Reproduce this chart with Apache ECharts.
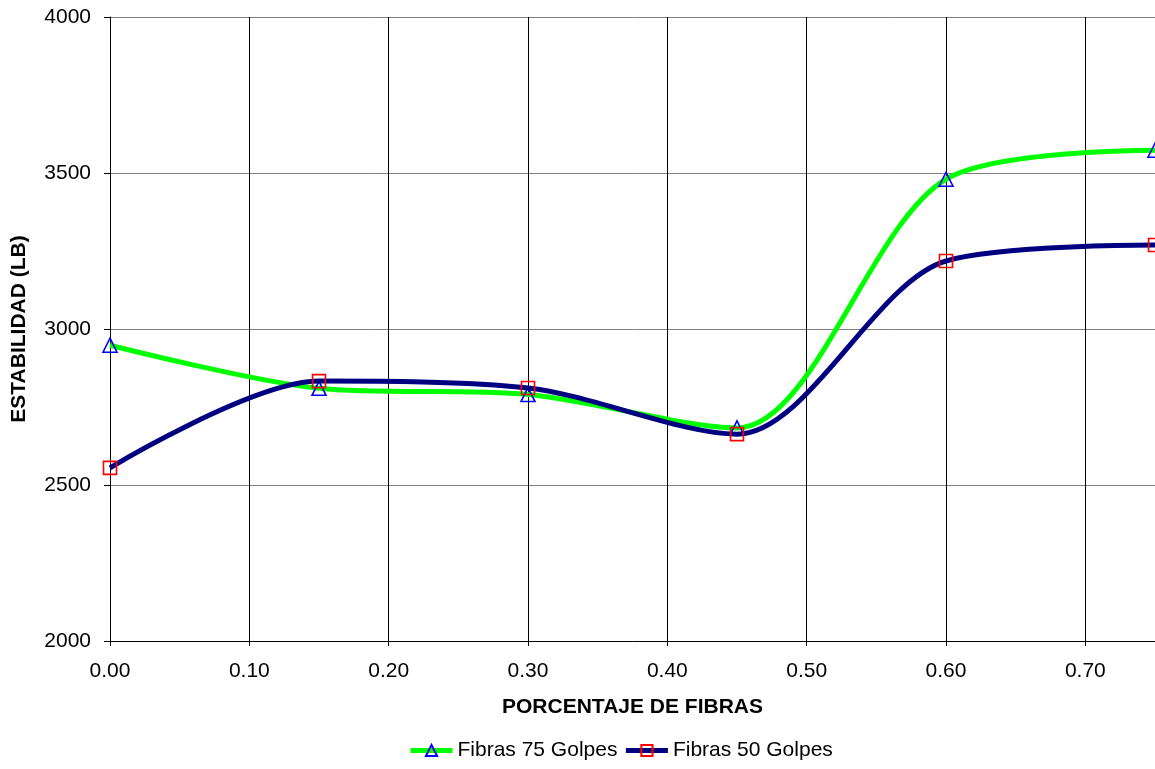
<!DOCTYPE html>
<html>
<head>
<meta charset="utf-8">
<script src="https://cdn.jsdelivr.net/npm/echarts@6/dist/echarts.min.js"></script>
<style>
  html, body { margin: 0; padding: 0; background: #fff; }
  #chart { width: 1155px; height: 769px; }
</style>
</head>
<body>
<div id="chart"></div>
<script>
// porcentaje de fibras
const fibras = [0.00, 0.15, 0.30, 0.45, 0.60, 0.75];
// estabilidad (lb)
const golpes75 = [2948, 2810, 2790, 2683, 3480, 3573];
const golpes50 = [2555, 2833, 2811, 2663, 3218, 3269];
const xTicks = ['0.00', '0.10', '0.20', '0.30', '0.40', '0.50', '0.60', '0.70'];

const chart = echarts.init(document.getElementById('chart'));
const font = 'Liberation Sans, Arial, sans-serif';

chart.setOption({
  animation: false,
  textStyle: { fontFamily: font },
  grid: { left: 110, top: 17, bottom: 128, right: 0 },
  legend: {
    bottom: 3,
    left: 403,
    itemWidth: 42,
    itemHeight: 14,
    itemGap: 6,
    lineStyle: { width: 5 },
    textStyle: { fontSize: 21, color: '#000', fontFamily: font },
    data: ['Fibras 75 Golpes', 'Fibras 50 Golpes']
  },
  xAxis: {
    type: 'value',
    min: 0,
    max: 0.75,
    interval: 0.1,
    name: 'PORCENTAJE DE FIBRAS',
    nameLocation: 'middle',
    nameGap: 56,
    nameTextStyle: { fontSize: 21, fontWeight: 'bold', color: '#000' },
    axisLine: { lineStyle: { color: '#000', width: 1 } },
    axisTick: { length: 5, lineStyle: { color: '#000' } },
    axisLabel: {
      fontSize: 21, color: '#000', margin: 20,
      showMaxLabel: false,
      formatter: v => xTicks[Math.round(v * 10)] || ''
    },
    splitLine: { show: true, lineStyle: { color: '#000', width: 1 } }
  },
  yAxis: {
    type: 'value',
    min: 2000,
    max: 4000,
    interval: 500,
    name: 'ESTABILIDAD (LB)',
    nameLocation: 'middle',
    nameGap: 80,
    nameTextStyle: { fontSize: 21, fontWeight: 'bold', color: '#000' },
    axisLine: { show: true, lineStyle: { color: '#000', width: 1 } },
    axisTick: { show: true, length: 6, lineStyle: { color: '#000' } },
    axisLabel: { fontSize: 21, color: '#000', margin: 19, formatter: v => String(v) },
    splitLine: { show: true, lineStyle: { color: '#808080', width: 1 } }
  },
  series: [
    {
      name: 'Fibras 75 Golpes',
      type: 'line',
      data: fibras.map((x, i) => [x, golpes75[i]]),
      smooth: 0.3,
      symbol: 'triangle',
      symbolSize: 14,
      showAllSymbol: true,
      lineStyle: { color: '#00FF00', width: 5 },
      itemStyle: { color: 'rgba(255,255,255,0)', borderColor: '#0000FF', borderWidth: 1.6 },
      z: 3
    },
    {
      name: 'Fibras 50 Golpes',
      type: 'line',
      data: fibras.map((x, i) => [x, golpes50[i]]),
      smooth: 0.3,
      symbol: 'rect',
      symbolSize: 13,
      showAllSymbol: true,
      lineStyle: { color: '#000080', width: 5 },
      itemStyle: { color: 'rgba(255,255,255,0)', borderColor: '#FF0000', borderWidth: 1.6 },
      z: 4
    }
  ]
});
</script>
</body>
</html>
